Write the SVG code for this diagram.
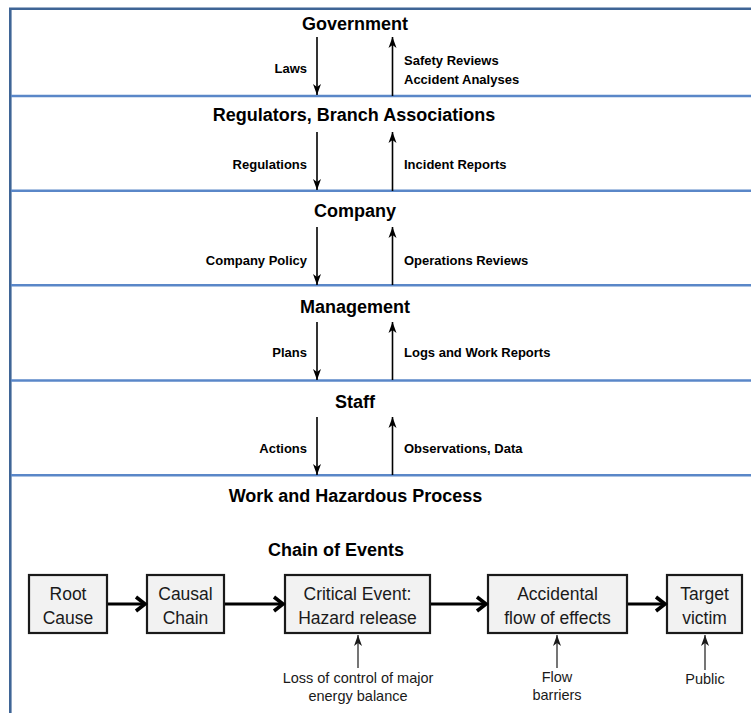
<svg xmlns="http://www.w3.org/2000/svg" width="751" height="713" viewBox="0 0 751 713">
<defs>
<style>
.title{font-family:"Liberation Sans",Arial,sans-serif;font-weight:bold;font-size:18px;fill:#000;text-anchor:middle}
.lbl{font-family:"Liberation Sans",Arial,sans-serif;font-weight:bold;font-size:13px;fill:#000}
.lblr{text-anchor:end}
.box{fill:#f2f2f2;stroke:#1a1a1a;stroke-width:2.2}
.btxt{font-family:"Liberation Sans",Arial,sans-serif;font-size:17.5px;fill:#1a1a1a;text-anchor:middle}
.small{font-family:"Liberation Sans",Arial,sans-serif;font-size:14.5px;fill:#1a1a1a;text-anchor:middle}
.sep{stroke:#5a87c8;stroke-width:2.6}
.sepl{stroke:#b9cde8;stroke-width:0.8}
.flow{stroke:#000;stroke-width:1.6;fill:none;marker-end:url(#ah)}
.thin{stroke:#1a1a1a;stroke-width:1.2;fill:none;marker-end:url(#ah2)}
.chain{stroke:#000;stroke-width:3.2;fill:none}
.chev{stroke:#000;stroke-width:3.6;fill:none;stroke-linejoin:miter;stroke-linecap:butt}
</style>
<marker id="ah" markerUnits="userSpaceOnUse" markerWidth="12" markerHeight="10" viewBox="0 0 12 10" refX="11" refY="5" orient="auto">
<path d="M0,1 L11,5 L0,9 L3,5 z" fill="#000"/>
</marker>
<marker id="ah2" markerUnits="userSpaceOnUse" markerWidth="12" markerHeight="10" viewBox="0 0 12 10" refX="11" refY="5" orient="auto">
<path d="M0,1 L11,5 L0,9 L3,5 z" fill="#1a1a1a"/>
</marker>
</defs>
<rect x="0" y="0" width="751" height="713" fill="#fff"/>
<g id="frame">
<line x1="9" y1="8.8" x2="751" y2="8.8" stroke="#3f6596" stroke-width="2.6"/>
<line x1="10.3" y1="8" x2="10.3" y2="713" stroke="#3f6596" stroke-width="2.6"/>
<line class="sep" x1="11" y1="96" x2="751" y2="96"/>
<line class="sep" x1="11" y1="190.8" x2="751" y2="190.8"/>
<line class="sep" x1="11" y1="285.3" x2="751" y2="285.3"/>
<line class="sep" x1="11" y1="380.5" x2="751" y2="380.5"/>
<line class="sep" x1="11" y1="475.2" x2="751" y2="475.2"/>
</g>
<g id="layer-government">
<text class="title" x="355" y="30">Government</text>
</g>
<g id="layer-regulators">
<text class="title" x="354" y="121">Regulators, Branch Associations</text>
</g>
<g id="layer-company">
<text class="title" x="355" y="217">Company</text>
</g>
<g id="layer-management">
<text class="title" x="355" y="313">Management</text>
</g>
<g id="layer-staff">
<text class="title" x="355" y="408">Staff</text>
</g>
<g id="layer-process">
<text class="title" x="355.5" y="502">Work and Hazardous Process</text>
<text class="title" x="336" y="556">Chain of Events</text>
</g>
<g id="box-root">
<rect class="box" x="29" y="575" width="78" height="58"/>
<text class="btxt" x="68" y="600">Root</text>
<text class="btxt" x="68" y="624">Cause</text>
</g>
<g id="box-causal">
<rect class="box" x="147" y="575" width="77" height="58"/>
<text class="btxt" x="185.5" y="600">Causal</text>
<text class="btxt" x="185.5" y="624">Chain</text>
</g>
<g id="box-critical">
<rect class="box" x="285" y="575" width="145" height="58"/>
<text class="btxt" x="357.5" y="600">Critical Event:</text>
<text class="btxt" x="357.5" y="624">Hazard release</text>
</g>
<g id="box-accidental">
<rect class="box" x="488" y="575" width="139" height="58"/>
<text class="btxt" x="557.5" y="600">Accidental</text>
<text class="btxt" x="557.5" y="624">flow of effects</text>
</g>
<g id="box-target">
<rect class="box" x="667" y="575" width="75" height="58"/>
<text class="btxt" x="704.5" y="600">Target</text>
<text class="btxt" x="704.5" y="624">victim</text>
</g>
<g id="labels">
<text class="lbl lblr" x="307" y="73">Laws</text>
<text class="lbl" x="404" y="65">Safety Reviews</text>
<text class="lbl" x="404" y="84">Accident Analyses</text>
<text class="lbl lblr" x="307" y="169">Regulations</text>
<text class="lbl" x="404" y="169">Incident Reports</text>
<text class="lbl lblr" x="307" y="265">Company Policy</text>
<text class="lbl" x="404" y="265">Operations Reviews</text>
<text class="lbl lblr" x="307" y="357">Plans</text>
<text class="lbl" x="404" y="357">Logs and Work Reports</text>
<text class="lbl lblr" x="307" y="453">Actions</text>
<text class="lbl" x="404" y="453">Observations, Data</text>
<text class="small" x="358" y="683">Loss of control of major</text>
<text class="small" x="358" y="701">energy balance</text>
<text class="small" x="557" y="682">Flow</text>
<text class="small" x="557" y="700">barriers</text>
<text class="small" x="705" y="684">Public</text>
</g>
<g id="connectors">
<line class="flow" x1="317" y1="37" x2="317" y2="95"/>
<line class="flow" x1="392.5" y1="96" x2="392.5" y2="37"/>
<line class="flow" x1="317" y1="132" x2="317" y2="190"/>
<line class="flow" x1="392.5" y1="191" x2="392.5" y2="132"/>
<line class="flow" x1="317" y1="227" x2="317" y2="285"/>
<line class="flow" x1="392.5" y1="285" x2="392.5" y2="227"/>
<line class="flow" x1="317" y1="322" x2="317" y2="380"/>
<line class="flow" x1="392.5" y1="380" x2="392.5" y2="322"/>
<line class="flow" x1="317" y1="417" x2="317" y2="475"/>
<line class="flow" x1="392.5" y1="475" x2="392.5" y2="417"/>
<line class="chain" x1="108" y1="604" x2="144" y2="604"/>
<polyline class="chev" points="136,597 145,604 136,611"/>
<line class="chain" x1="225" y1="604" x2="282" y2="604"/>
<polyline class="chev" points="274,597 283,604 274,611"/>
<line class="chain" x1="431" y1="604" x2="485" y2="604"/>
<polyline class="chev" points="477,597 486,604 477,611"/>
<line class="chain" x1="628" y1="604" x2="664" y2="604"/>
<polyline class="chev" points="656,597 665,604 656,611"/>
<line class="thin" x1="358" y1="668" x2="358" y2="635"/>
<line class="thin" x1="557" y1="668" x2="557" y2="635"/>
<line class="thin" x1="705" y1="670" x2="705" y2="635"/>
</g>
</svg>
